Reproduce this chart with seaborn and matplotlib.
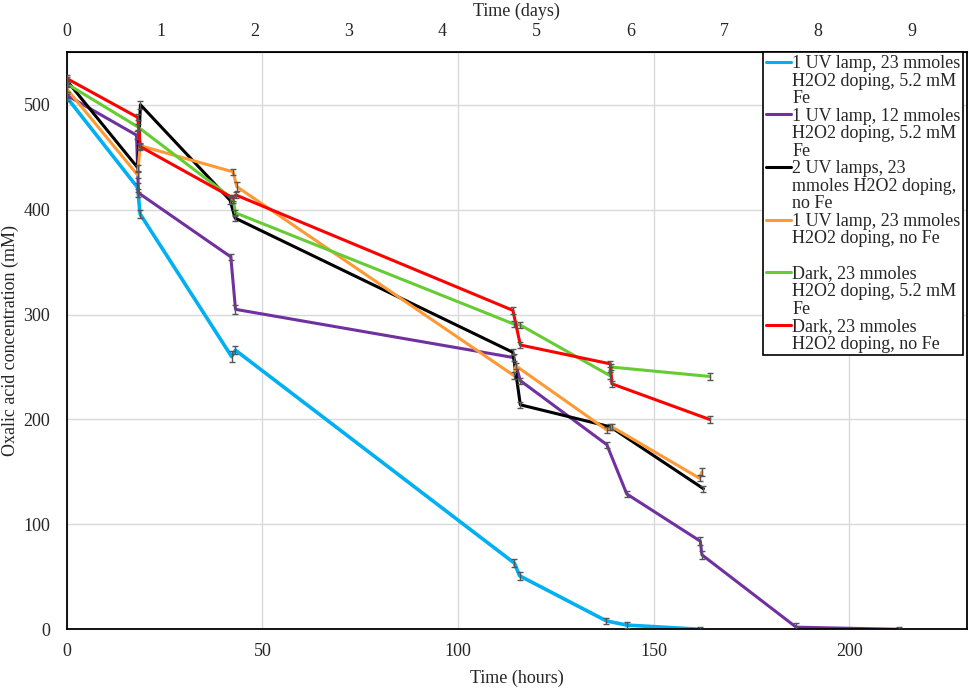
import numpy as np
import pandas as pd
import matplotlib
matplotlib.use("Agg")
import matplotlib.pyplot as plt
from matplotlib.lines import Line2D
import seaborn as sns

# values (time in hours, concentration in mM)
cyan_t = [0, 18.1, 18.7, 42.1, 43.1, 114.4, 115.7, 137.9, 143.1, 161.9]
cyan_c = [507, 421, 396, 260, 266, 63, 51, 8, 4, 0]
cyan_e = [3, 4, 4, 5, 4, 4, 4, 3, 3, 2]

purple_t = [0, 17.8, 18.3, 41.9, 43.1, 114.2, 115.9, 138.0, 143.1, 161.9, 162.3, 186.4, 212.6]
purple_c = [509, 471, 416, 355, 305, 259, 237, 176, 129, 84, 71, 2, 0]
purple_e = [3, 4, 4, 3, 4, 3, 3, 3, 3, 4, 4, 4, 2]

black_t = [0, 18.1, 18.8, 41.7, 43.0, 114.0, 115.9, 138.9, 162.7]
black_c = [523, 440, 500, 409, 392, 264, 214, 193, 134]
black_e = [3, 3, 4, 4, 3, 3, 3, 3, 3]

orange_t = [0, 18.1, 18.7, 42.5, 43.4, 114.2, 114.8, 138.0, 139.3, 161.7, 162.3]
orange_c = [515, 433, 461, 436, 422, 242, 251, 190, 193, 144, 150]
orange_e = [3, 3, 3, 3, 4, 3, 3, 3, 3, 3, 4]

green_t = [0, 18.1, 42.5, 43.1, 114.2, 115.9, 138.7, 139.1, 164.3]
green_c = [520, 479, 410, 397, 291, 290, 242, 250, 241]
green_e = [3, 3, 4, 3, 3, 3, 3, 3, 3]

red_t = [0, 18.1, 18.8, 42.5, 43.2, 114.0, 115.9, 138.9, 139.3, 164.3]
red_c = [525, 488, 460, 411, 414, 304, 271, 253, 234, 200]
red_e = [3, 3, 3, 3, 3, 3, 3, 3, 3, 3]

labels = [
    ["1 UV lamp, 23 mmoles", "H2O2 doping, 5.2 mM", "Fe"],
    ["1 UV lamp, 12 mmoles", "H2O2 doping, 5.2 mM", "Fe"],
    ["2 UV lamps, 23", "mmoles H2O2 doping,", "no Fe"],
    ["1 UV lamp, 23 mmoles", "H2O2 doping, no Fe", " "],
    ["Dark, 23 mmoles", "H2O2 doping, 5.2 mM", "Fe"],
    ["Dark, 23 mmoles", "H2O2 doping, no Fe"],
]
colors = ["#00B0F0", "#7030A0", "#000000", "#FF9933", "#66CC33", "#FF0000"]
series = [
    (cyan_t, cyan_c, cyan_e),
    (purple_t, purple_c, purple_e),
    (black_t, black_c, black_e),
    (orange_t, orange_c, orange_e),
    (green_t, green_c, green_e),
    (red_t, red_c, red_e),
]

sns.set_style("white")
plt.rcParams['font.family'] = ['Liberation Serif', 'DejaVu Serif']

fig = plt.figure(figsize=(9.69, 6.91), dpi=100)
ax = fig.add_axes([0.069, 0.0893, 0.9287, 0.835])

for (t, c, e), col in zip(series, colors):
    df = pd.DataFrame({"t": t, "c": c})
    lw = 2.6 if col == "#00B0F0" else 2.2
    sns.lineplot(data=df, x="t", y="c", sort=False, estimator=None,
                 color=col, linewidth=lw, ax=ax)
for (t, c, e), col in zip(series, colors):
    ax.errorbar(t, c, yerr=e, fmt="none", ecolor="#555555",
                elinewidth=1.0, capsize=2.2, capthick=1.0, zorder=5)

ax.set_xlim(0, 230)
ax.set_ylim(0, 550)
ax.set_xticks([0, 50, 100, 150, 200])
ax.set_yticks([0, 100, 200, 300, 400, 500])
ax.grid(True, color="#D9D9D9", linewidth=1.0)
ax.set_axisbelow(True)
for s in ax.spines.values():
    s.set_color("black")
    s.set_linewidth(1.3)
ax.tick_params(axis="x", length=0, labelsize=13, pad=10)
ax.tick_params(axis="y", length=0, labelsize=13, pad=12)
ax.set_xlabel("Time (hours)", fontsize=13, labelpad=7)
ax.set_ylabel("Oxalic acid concentration (mM)", fontsize=13, labelpad=3)

top = ax.secondary_xaxis('top', functions=(lambda h: h / 24.0, lambda d: d * 24.0))
top.set_xticks(range(0, 10))
top.tick_params(length=0, labelsize=13, pad=9)
top.set_xlabel("Time (days)", fontsize=13, labelpad=5)

# legend: one row per text line, handle only on first line of each entry
handles, texts = [], []
for lab, col in zip(labels, colors):
    for i, line in enumerate(lab):
        if i == 0:
            handles.append(Line2D([], [], color=col, linewidth=2.2))
        else:
            handles.append(Line2D([], [], color="none"))
        texts.append(line)
leg = ax.legend(handles, texts, loc="upper right", bbox_to_anchor=(0.996, 1.0),
                borderaxespad=0, fontsize=13, labelspacing=0.03,
                handlelength=1.4, handletextpad=0.05, borderpad=0.15,
                fancybox=False, framealpha=1, edgecolor="black")
leg.get_frame().set_linewidth(1.2)

fig.savefig("out.png", dpi=100)
